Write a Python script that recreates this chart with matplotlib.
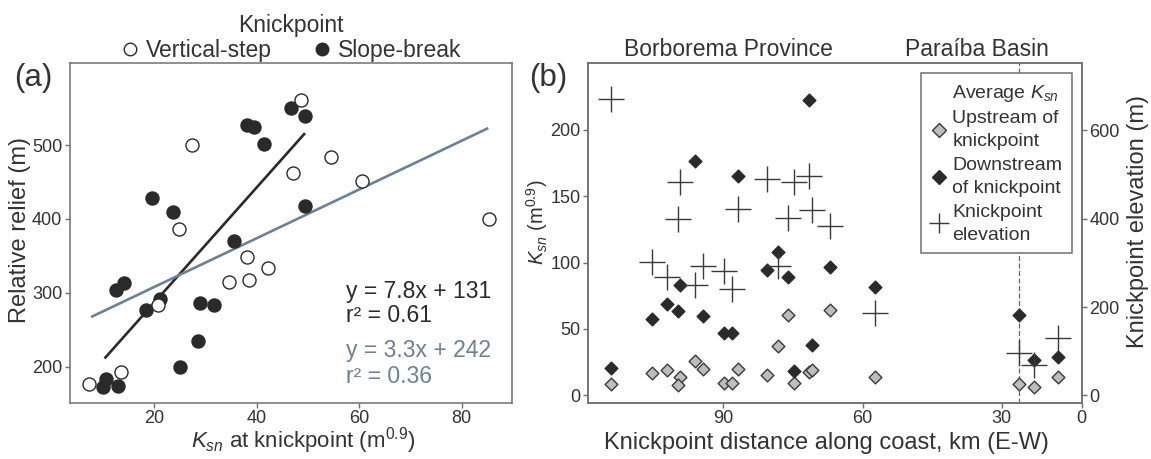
import matplotlib
matplotlib.use('Agg')
import matplotlib.pyplot as plt
from matplotlib.lines import Line2D

plt.rcParams['font.family'] = ['Liberation Sans', 'DejaVu Sans']
plt.rcParams['mathtext.fontset'] = 'custom'
plt.rcParams['mathtext.rm'] = 'Liberation Sans'
plt.rcParams['mathtext.it'] = 'Liberation Sans:italic'
plt.rcParams['text.color'] = '#333333'

# --- (a) relief vs Ksn ---
vs_ksn = [48.6, 27.3, 54.5, 47.1, 60.6, 85.4, 24.7, 38.0, 34.6, 38.5, 42.2, 20.7, 13.4, 7.3]
vs_relief = [561, 500, 484, 462, 452, 400, 387, 349, 314, 317, 333, 283, 193, 177]

sb_ksn = [46.7, 49.4, 38.1, 39.5, 41.4, 19.5, 23.7, 49.4, 35.6, 14.1,
          12.5, 21.0, 18.4, 28.8, 31.7, 28.5, 24.9, 10.6, 10.0, 12.8]
sb_relief = [550, 539, 528, 525, 501, 429, 410, 417, 370, 313,
             304, 291, 276, 286, 283, 235, 199, 183, 172, 173]

fit_sb = (7.8, 131, 0.61, 10.25, 49.4)    # slope, intercept, r2, xmin, xmax
fit_all = (3.3, 242, 0.36, 7.6, 85.2)

# --- (b) Ksn and knickpoint elevation along coast ---
dist_km = [114.2, 105.4, 102.1, 99.4, 99.8, 96.1, 94.4, 89.8, 88.1, 86.9, 80.7,
           78.2, 76.1, 74.8, 71.6, 70.8, 67.1, 57.3, 26.4, 23.1, 17.8]
ksn_up = [8.6, 16.7, 19.2, 13.7, 7.9, 26.2, 19.7, 9.2, 9.2, 19.9, 15.4,
          37.2, 60.5, 9.2, 17.9, 19.2, 64.3, 14.1, 8.6, 6.6, 14.1]
ksn_down = [20.4, 57.3, 68.8, 83.1, 63.5, 176.3, 59.8, 46.8, 46.8, 165.3, 94.4,
            108.1, 89.3, 18.4, 222.7, 38.0, 96.4, 81.4, 60.5, 26.7, 29.2]
kp_elev = [672, 301, 267, 483, 400, 251, 293, 282, 240, 423, 489,
           292, 402, 483, 497, 419, 383, 186, 95, 69, 129]
basin_boundary_km = 26.4

W, H = 1151, 459
spine_c = '#707070'
dark = '#2a2a2a'
blue = '#6b8197'

fig = plt.figure(figsize=(W / 100, H / 100), dpi=100)
ax1 = fig.add_axes([70 / W, 56.3 / H, 442.3 / W, 339.4 / H])
ax2 = fig.add_axes([588.3 / W, 56.3 / H, 493.4 / W, 339.4 / H])
ax3 = ax2.twinx()


def style(ax):
    for s in ax.spines.values():
        s.set_color(spine_c)
        s.set_linewidth(1.1)
    ax.tick_params(length=3.5, width=1, color=spine_c, labelcolor='#333333',
                   labelsize=13, pad=2)


# panel a
for slope, icpt, r2, x0, x1, c in [fit_sb + (dark,), fit_all + (blue,)]:
    ax1.plot([x0, x1], [slope * x0 + icpt, slope * x1 + icpt], color=c, lw=1.9,
             solid_capstyle='butt')
ax1.scatter(sb_ksn, sb_relief, s=88, facecolor=dark, edgecolor=dark, lw=1, zorder=3)
ax1.scatter(vs_ksn, vs_relief, s=88, facecolor='white', edgecolor=dark, lw=1, zorder=4)
ax1.set_xlim(3.5, 89.9)
ax1.set_ylim(151, 611)
ax1.set_xticks([20, 40, 60, 80])
ax1.set_yticks([200, 300, 400, 500])
style(ax1)

ax1.text(57.5, 301.5, f'y = {fit_sb[0]}x + {fit_sb[1]}', fontsize=16.5, color=dark, va='center')
ax1.text(57.5, 268.6, f'r² = {fit_sb[2]}', fontsize=16.5, color=dark, va='center')
ax1.text(57.5, 221.6, f'y = {fit_all[0]}x + {fit_all[1]}', fontsize=16.5, color=blue, va='center')
ax1.text(57.5, 186.5, f'r² = {fit_all[2]}', fontsize=16.5, color=blue, va='center')

ax1.text(-0.113, 0.509, 'Relative relief (m)', transform=ax1.transAxes, rotation=90,
         ha='center', va='center', fontsize=17)
ax1.text(0.527, -0.112, r'$K_{sn}$ at knickpoint (m$^{0.9}$)', transform=ax1.transAxes,
         ha='center', va='center', fontsize=16)

h_vs = Line2D([], [], ls='none', marker='o', ms=9, mfc='white', mec=dark, mew=1)
h_sb = Line2D([], [], ls='none', marker='o', ms=9, mfc=dark, mec=dark, mew=1)
leg1 = ax1.legend([h_vs, h_sb], ['Vertical-step', 'Slope-break'], ncol=2,
                  title='Knickpoint', loc='lower center', bbox_to_anchor=(0.5, 1.0),
                  frameon=False, fontsize=16.5, title_fontsize=16.5,
                  handlelength=0.8, handletextpad=0.3, columnspacing=1.8,
                  borderaxespad=0.0, borderpad=0.05, labelspacing=0.1)
for t in leg1.get_texts():
    t.set_color('#333333')
leg1.get_title().set_color('#333333')

# panel b
ax2.axvline(basin_boundary_km, color='#666666', ls=(0, (4, 2)), lw=0.9, zorder=1)
ax2.scatter(dist_km, ksn_up, s=42, marker='D', facecolor='#bdbdbd', edgecolor='#3a3a3a',
            lw=1, zorder=3)
ax2.scatter(dist_km, ksn_down, s=42, marker='D', facecolor=dark, edgecolor=dark,
            lw=1, zorder=3)
ax3.scatter(dist_km, kp_elev, s=350, marker='+', color='#3a3a3a', lw=1, zorder=4)

x_right = 12.8
ax2.set_xlim(119.1, x_right)
ax2.set_xticks([90, 60, 30, x_right])
ax2.set_xticklabels(['90', '60', '30', '0'])
ax2.set_ylim(-5.5, 250)
ax2.set_yticks([0, 50, 100, 150, 200])
ax3.set_ylim(-16.5, 752)
ax3.set_yticks([0, 200, 400, 600])
style(ax2)
style(ax3)

ax2.text(-0.104, 0.532, r'$K_{sn}$ (m$^{0.9}$)', transform=ax2.transAxes, rotation=90,
         ha='center', va='center', fontsize=14.5)
ax2.text(1.114, 0.535, 'Knickpoint elevation (m)', transform=ax2.transAxes, rotation=90,
         ha='center', va='center', fontsize=17)
ax2.text(0.483, -0.119, 'Knickpoint distance along coast, km (E-W)', transform=ax2.transAxes,
         ha='center', va='center', fontsize=17)

h_title = Line2D([], [], ls='none')
h_up = Line2D([], [], ls='none', marker='D', ms=7, mfc='#bdbdbd', mec='#3a3a3a', mew=1)
h_dn = Line2D([], [], ls='none', marker='D', ms=7, mfc=dark, mec=dark, mew=1)
h_kp = Line2D([], [], ls='none', marker='+', ms=14, mec='#3a3a3a', mew=1)
leg2 = ax3.legend([h_title, h_up, h_dn, h_kp],
                  [r'Average $K_{sn}$', 'Upstream of\nknickpoint',
                   'Downstream\nof knickpoint', 'Knickpoint\nelevation'],
                  loc='upper right', bbox_to_anchor=(1, 1), borderaxespad=0.49,
                  fontsize=14, handlelength=0.8, handletextpad=0.3, labelspacing=0.35,
                  borderpad=0.5, fancybox=False, framealpha=1, edgecolor=spine_c)
leg2.get_frame().set_linewidth(1.1)
for t in leg2.get_texts():
    t.set_color('#333333')
    t.set_linespacing(1.45)

fig.text(33 / W, 1 - 78 / H, '(a)', ha='center', va='center', fontsize=22.5)
fig.text(548 / W, 1 - 78 / H, '(b)', ha='center', va='center', fontsize=22.5)
fig.text(728.3 / W, 1 - 49.3 / H, 'Borborema Province', ha='center', va='center', fontsize=16.5)
fig.text(976.7 / W, 1 - 49.3 / H, 'Paraíba Basin', ha='center', va='center', fontsize=16.5)

fig.savefig('out.png', dpi=100)
